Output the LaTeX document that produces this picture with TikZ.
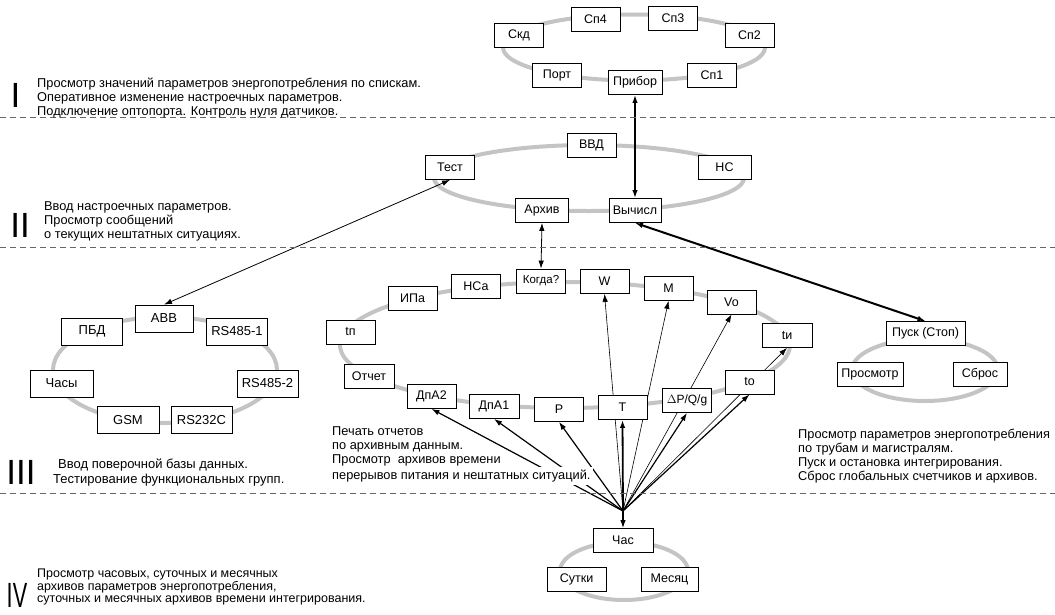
\documentclass[tikz,border=0pt]{standalone}
\usepackage{fontspec}
\setmainfont{Liberation Sans}
\newfontfamily\narrowfont[FakeStretch=0.62]{Liberation Sans}
\usetikzlibrary{arrows.meta,positioning,backgrounds}
\tikzset{
>={Latex[length=8pt,width=5.5pt]},
  punkt/.style={
    rectangle,
    draw=black, line width=0.8pt,
    fill=white,
    minimum width=49pt,
    minimum height=24pt,
    inner sep=1pt,
    font=\fontsize{12.5}{13}\selectfont},
  widepunkt/.style={punkt, minimum width=61pt, minimum height=27pt,
    font=\fontsize{13}{14}\selectfont},
  ring/.style={draw=black!23, line width=4pt},
  level/.style={draw=black!60, line width=1pt, dash pattern=on 6pt off 4pt},
  roman/.style={font=\fontsize{35}{35}\selectfont, inner sep=0pt},
  note/.style={align=left, anchor=west, inner sep=0pt,
    font=\fontsize{12.8}{14}\selectfont},
  bold/.style={draw, line width=2pt, <->},
  link/.style={draw, line width=0.8pt, <->},
  fan/.style={draw, line width=1.2pt, ->},
  thinfan/.style={draw, line width=0.6pt, ->},
}
\begin{document}
\begin{tikzpicture}[x=1pt,y=-1pt]
  \useasboundingbox (0,0) rectangle (1055,614);
  % level borders
  \draw[level] (0,117) -- (1055,117);
  \draw[level] (0,247) -- (1055,247);
  \draw[level] (0,493) -- (1055,493);

  %% Level I
  \node[roman] (romI) at (15.5,95.5) {I};
  \node[note] (noteI) at (37,98.5) {Просмотр значений параметров энергопотребления по спискам.\\
    Оперативное изменение настроечных параметров.\\
    Подключение оптопорта. Контроль нуля датчиков.};
  \node[punkt] (skd) at (519,35.5) {Скд};
  \node[punkt] (sp4) at (595.5,19.5) {Сп4};
  \node[punkt] (sp3) at (673,18.5) {Сп3};
  \node[punkt] (sp2) at (749.5,35.5) {Сп2};
  \node[punkt] (sp1) at (712,75) {Сп1};
  \node[punkt, minimum width=54pt] (pribor) at (635,82.5) {Прибор};
  \node[punkt] (port) at (557,75) {Порт};

  %% Level II
  \node[roman] (romII) at (20,225.5) {II};
  \node[note] (noteII) at (44,221) {Ввод настроечных параметров.\\
    Просмотр сообщений\\
    о текущих нештатных ситуациях.};
  \node[punkt] (test) at (450,167.5) {Тест};
  \node[punkt] (vvd) at (591.5,145.5) {ВВД};
  \node[punkt, minimum width=53pt] (ns) at (724.5,167.5) {НС};
  \node[punkt, minimum width=53pt] (arhiv) at (542,210.5) {Архив};
  \node[punkt, minimum width=52pt] (vychisl) at (635,210.5) {Вычисл};

  %% Level III, left ring
  \node[roman] (romIII) at (21,472.5) {III};
  \node[note, font=\fontsize{13}{15}\selectfont] (noteIIIa) at (53,472.5) {\hspace*{5pt}Ввод поверочной базы данных.\\
    Тестирование функциональных групп.};
  \node[widepunkt, minimum width=58pt] (abb) at (164,318.5) {ABB};
  \node[widepunkt] (pbd) at (92,331.5) {ПБД};
  \node[widepunkt] (rsa) at (237,331.5) {RS485-1};
  \node[widepunkt, minimum width=63pt] (chasy) at (61.5,383.5) {Часы};
  \node[widepunkt] (rsb) at (267.5,383.5) {RS485-2};
  \node[widepunkt, minimum width=62pt] (gsm) at (128,420) {GSM};
  \node[widepunkt] (rsc) at (201.5,420) {RS232C};

  %% Level III, main ring
  \node[punkt, font=\fontsize{11.5}{12}\selectfont] (kogda) at (541,281) {Когда?};
  \node[punkt] (nsa) at (476,286.5) {НСа};
  \node[punkt] (ipa) at (412.5,298.5) {ИПа};
  \node[punkt] (tp) at (350.5,332) {tп};
  \node[punkt, minimum width=50pt] (otchet) at (369,376) {Отчет};
  \node[punkt] (dpa2) at (431.5,396.5) {ДпА2};
  \node[punkt, minimum width=50pt] (dpa1) at (494,406.5) {ДпА1};
  \node[punkt] (p) at (559,409.5) {P};
  \node[punkt] (t) at (622.5,407.5) {T};
  \node[punkt, font=\fontsize{12}{13}\selectfont] (dpqg) at (687,400.5) {$\Delta$P/Q/g};
  \node[punkt] (to) at (749.5,382) {to};
  \node[punkt, minimum width=50pt] (ti) at (787,335.5) {tи};
  \node[punkt] (vo) at (731.5,302) {Vo};
  \node[punkt] (m) at (668.5,288.5) {M};
  \node[punkt] (w) at (604.5,281.5) {W};
  \node[note] (noteIIIb) at (332,456) {Печать отчетов\\
    по архивным данным.\\
    Просмотр\ \ архивов времени\\
    \colorbox{white}{\hspace*{-\fboxsep}перерывов питания и нештатных ситуаций.}};

  %% Level III, right ring
  \node[punkt, minimum width=79pt] (pusk) at (925.5,333.5) {Пуск (Стоп)};
  \node[punkt, minimum width=66pt] (prosmotr) at (870,374.5) {Просмотр};
  \node[punkt, minimum width=54pt] (sbros) at (980,374.5) {Сброс};
  \node[note] (noteIIIc) at (798,456.5) {Просмотр параметров энергопотребления\\
    по трубам и магистралям.\\
    Пуск и остановка интегрирования.\\
    Сброс глобальных счетчиков и архивов.};

  %% Level IV
  \node[roman, font=\narrowfont\fontsize{35}{35}\selectfont] (romIV) at (17,595.5) {IV};
  \node[note, font=\fontsize{12.5}{12.5}\selectfont] (noteIV) at (37,587) {Просмотр часовых, суточных и месячных\\
    архивов параметров энергопотребления,\\
    суточных и месячных архивов времени интегрирования.};
  \node[punkt, minimum width=60pt] (chas) at (623,540.5) {Час};
  \node[punkt, minimum width=59pt] (sutki) at (576.5,579.5) {Сутки};
  \node[punkt, minimum width=57pt] (mesyac) at (669.5,579.5) {Месяц};

  \coordinate (hub) at (623,511);

  % rings and connectors go below the boxes
  \begin{scope}[on background layer]
    \draw[ring] (634,47.5) ellipse [x radius=131, y radius=33];
    \draw[ring] (589,178) ellipse [x radius=155, y radius=33];
    \draw[ring] (165,370) ellipse [x radius=112, y radius=53];
    \draw[ring] (565,345) ellipse [x radius=225, y radius=63];
    \draw[ring] (925,370) ellipse [x radius=73, y radius=31];
    \draw[ring] (624,571) ellipse [x radius=64, y radius=29];

    \draw[bold] (pribor.south) -- (vychisl.north);
    \draw[bold] (vychisl.south) -- (pusk.north);
    \draw[link] (test.south) -- (abb.north);
    \draw[link] (arhiv.south) -- (kogda.north);

    \draw[fan] (hub) -- (chas.north);
    \draw[fan] (hub) -- (dpa2.south);
    \draw[fan] (hub) -- (dpa1.south);
    \draw[fan] (hub) -- (p.south);
    \draw[fan, line width=1.8pt] (hub) -- (t.south);
    \draw[fan] (hub) -- (dpqg.south);
    \draw[fan] (hub) -- (to.south);
    \draw[thinfan] (hub) -- (w.south);
    \draw[thinfan] (hub) -- (m.south);
    \draw[thinfan] (hub) -- (vo.south);
    \draw[thinfan] (hub) -- (ti.south);
  \end{scope}
\end{tikzpicture}
\end{document}
